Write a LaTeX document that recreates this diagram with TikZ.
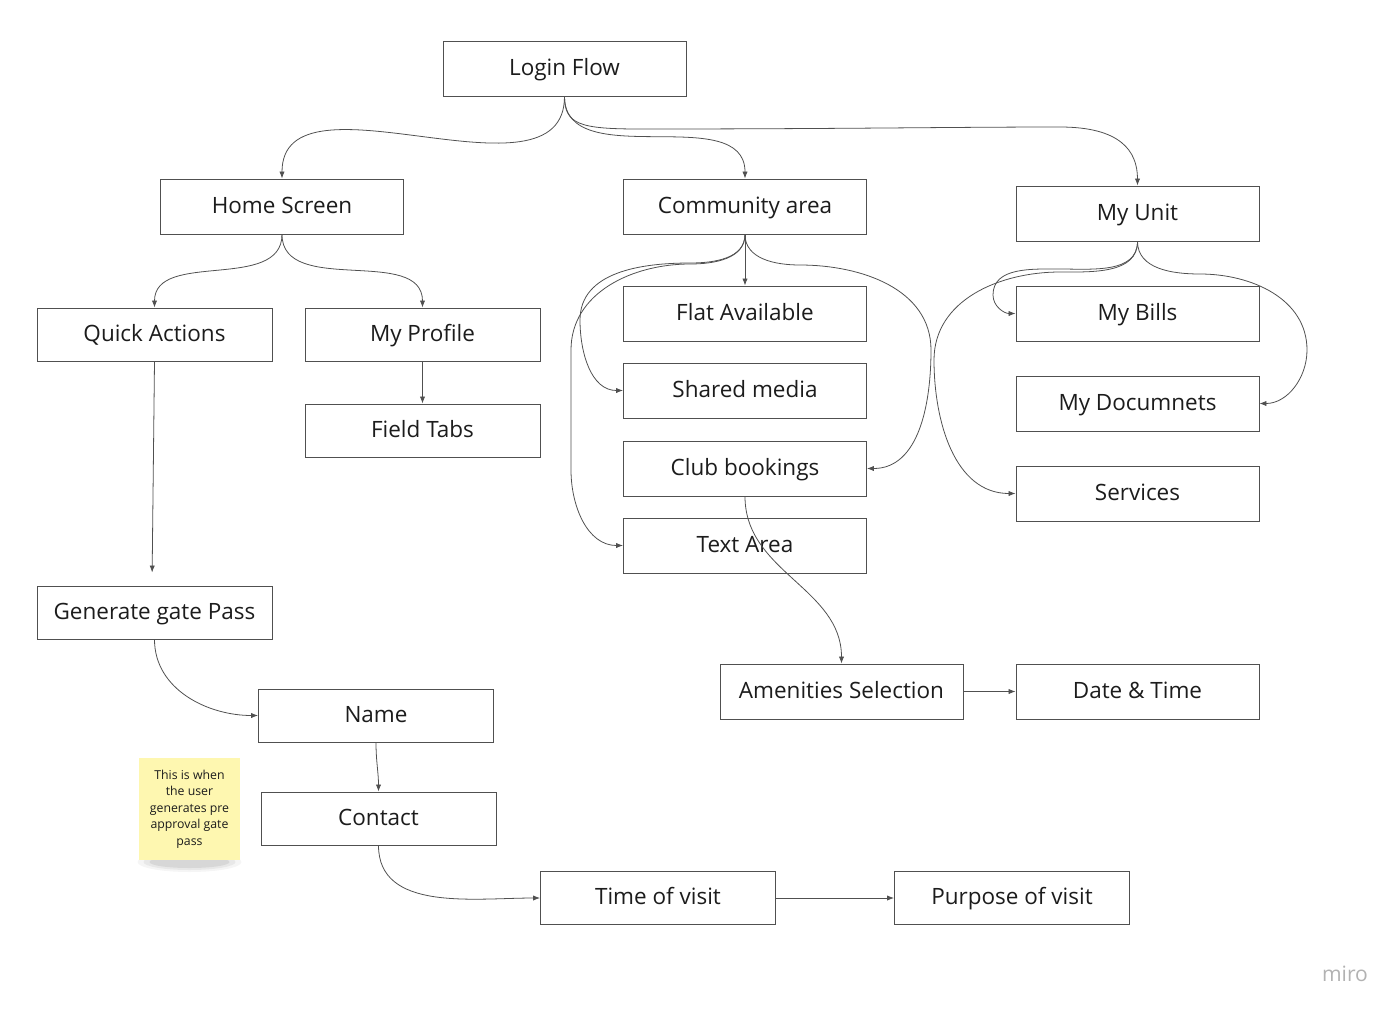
\documentclass[tikz,border=0pt]{standalone}
\usepackage{fontspec}
\setmainfont{Open Sans}
\usetikzlibrary{arrows.meta}
\definecolor{miroline}{HTML}{505050}
\definecolor{mirotext}{HTML}{1C1C1C}
\definecolor{stickyyellow}{HTML}{FEF7B0}

\begin{document}
\begin{tikzpicture}[x=0.02cm, y=-0.02cm, >={Latex[length=4pt,width=3pt]},
  every node/.style={font=\fontsize{12.8}{15}\selectfont, text=mirotext, align=center},
  flowbox/.style={draw=miroline, line width=0.5pt, minimum width=4.86cm, minimum height=1.1cm,
    inner sep=0pt, text height=10pt, text depth=2.6pt},
  narrowbox/.style={flowbox, minimum width=4.7cm, minimum height=1.06cm},
  sticky/.style={fill=stickyyellow, minimum width=2.02cm, minimum height=2.04cm, inner sep=0pt, font=\fontsize{7}{9.4}\selectfont},
  link/.style={->, draw=miroline, line width=0.45pt}]
  \useasboundingbox[fill=white] (0,0) rectangle (1400,1015);

  % top level
  \node[flowbox] (login) at (564.5,68.5) {Login Flow};
  \node[flowbox] (home) at (282,206.5) {Home Screen};
  \node[flowbox] (community) at (745,206.5) {Community area};
  \node[flowbox] (myunit) at (1137.5,213.5) {My Unit};

  % home screen branch
  \node[narrowbox] (quick) at (154.5,334.5) {Quick Actions};
  \node[narrowbox] (profile) at (422.5,334.5) {My Profile};
  \node[narrowbox] (fieldtabs) at (422.5,430.5) {Field Tabs};
  \node[narrowbox] (gatepass) at (154.5,612.5) {Generate gate Pass};
  \node[narrowbox] (name) at (376,715.5) {Name};
  \node[narrowbox] (contact) at (378.5,818.5) {Contact};
  \node[narrowbox] (visittime) at (658,898) {Time of visit};
  \node[narrowbox] (purpose) at (1012,898) {Purpose of visit};

  % community branch
  \node[flowbox] (flat) at (745,313.5) {Flat Available};
  \node[flowbox] (shared) at (745,390.5) {Shared media};
  \node[flowbox] (club) at (745,468.5) {Club bookings};
  \node[flowbox] (textarea) at (745,545.5) {Text Area};
  \node[flowbox] (amenities) at (841.5,691.5) {Amenities Selection};
  \node[flowbox] (datetime) at (1137.5,691.5) {Date \& Time};

  % my unit branch
  \node[flowbox] (bills) at (1137.5,313.5) {My Bills};
  \node[flowbox] (documents) at (1137.5,403.5) {My Documnets};
  \node[flowbox] (services) at (1137.5,493.5) {Services};

  % sticky note with its shadow
  \foreach \o/\w/\h in {0.04/52/10,0.05/46/8,0.07/40/6}
    \fill[black, opacity=\o] (189.5,862) ellipse [x radius=\w, y radius=\h];
  \node[sticky] (note) at (189.5,809) {This is when\\the user\\generates pre\\approval gate\\pass};

  \node[text=black!30, font=\fontsize{12}{14}\selectfont] (logo) at (1345,974) {miro};

  % links from login
  \draw[link] (login.south) to[out=-90,in=90] (home.north);
  \draw[link] (login.south) to[out=-90,in=90] (community.north);
  \draw[link] (login.south) .. controls +(0,28) and +(-60,0) .. (640,129)
    .. controls +(200,0) and +(-110,0) .. (1060,127)
    .. controls +(60,0) and +(0,-35) .. (myunit.north);

  % home screen links
  \draw[link] (home.south) to[out=-90,in=90] (quick.north);
  \draw[link] (home.south) to[out=-90,in=90] (profile.north);
  \draw[link] (profile.south) -- (fieldtabs.north);
  \draw[link, shorten >=0.26cm] (quick.south) -- ([xshift=-0.05cm]gatepass.north);
  \draw[link] (gatepass.south) to[out=-90,in=180] (name.west);
  \draw[link] (name.south) to[out=-90,in=90] (contact.north);
  \draw[link] (contact.south) to[out=-90,in=180] (visittime.west);
  \draw[link] (visittime.east) -- (purpose.west);

  % community links
  \draw[link] (community.south) -- (flat.north);
  \draw[link] (community.south) to[out=-90,in=0] (690,263) to[out=180,in=90] (580,320)
    to[out=-90,in=180] (shared.west);
  \draw[link] (community.south) to[out=-90,in=0] (690,264) to[out=180,in=90] (571,350)
    -- (571,470) to[out=-90,in=180] (textarea.west);
  \draw[link] (community.south) to[out=-90,in=180] (800,265) to[out=0,in=90] (931,350)
    to[out=-90,in=0] (club.east);
  \draw[link] (club.south) to[out=-90,in=90] (amenities.north);
  \draw[link] (amenities.east) -- (datetime.west);

  % my unit links
  \draw[link] (myunit.south) to[out=-90,in=0] (1060,269) to[out=180,in=90] (993,295)
    to[out=-90,in=180] (bills.west);
  \draw[link] (myunit.south) to[out=-90,in=180] (1200,274) to[out=0,in=90] (1307,350)
    to[out=-90,in=0] (documents.east);
  \draw[link] (myunit.south) to[out=-90,in=0] (1060,272) to[out=180,in=90] (934,360)
    to[out=-90,in=180] (services.west);
\end{tikzpicture}
\end{document}
